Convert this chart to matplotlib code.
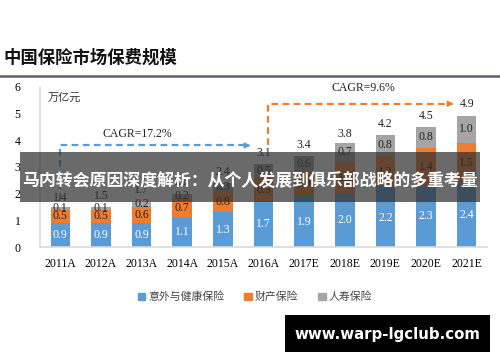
import matplotlib
matplotlib.use("Agg")
import matplotlib.pyplot as plt
from matplotlib.patches import Rectangle, Patch
import numpy as np

years = ["2011A", "2012A", "2013A", "2014A", "2015A", "2016A",
         "2017E", "2018E", "2019E", "2020E", "2021E"]
health = [0.9, 0.9, 0.9, 1.1, 1.3, 1.7, 1.9, 2.0, 2.2, 2.3, 2.4]
prop = [0.5, 0.5, 0.6, 0.7, 0.8, 0.9, 0.9, 1.2, 1.2, 1.4, 1.5]
life = [0.1, 0.1, 0.2, 0.2, 0.3, 0.5, 0.6, 0.7, 0.8, 0.8, 1.0]
totals = [1.4, 1.5, 1.7, 2.0, 2.4, 3.1, 3.4, 3.8, 4.2, 4.5, 4.9]
series_names = ["意外与健康保险", "财产保险", "人寿保险"]
title = "中国保险市场保费规模"
unit = "万亿元"
cagr1 = "CAGR=17.2%"
cagr2 = "CAGR=9.6%"
banner = "马内转会原因深度解析：从个人发展到俱乐部战略的多重考量"
watermark = "www.warp-lgclub.com"

C_BLUE = "#5B9BD5"
C_ORANGE = "#ED7D31"
C_GRAY = "#A5A5A5"
SERIF = "Liberation Serif"
CJK = ["Noto Sans CJK SC", "DejaVu Sans"]

fig = plt.figure(figsize=(5.0, 3.62), dpi=100)
W, H = 500, 362

ax = fig.add_axes([40 / W, 1 - 247 / H, (487 - 40) / W, (247 - 86.7) / H])
x = np.arange(len(years))
bw = 0.48
h = np.array(health); p = np.array(prop); l = np.array(life)
ax.bar(x, h, bw, color=C_BLUE, zorder=2)
ax.bar(x, p, bw, bottom=h, color=C_ORANGE, zorder=2)
ax.bar(x, l, bw, bottom=h + p, color=C_GRAY, zorder=2)

for i in range(len(years)):
    ax.text(x[i], h[i] / 2, f"{health[i]:.1f}", ha="center", va="center",
            color="white", fontsize=8.5, family=SERIF, zorder=3)
    ax.text(x[i], h[i] + p[i] / 2, f"{prop[i]:.1f}", ha="center", va="center",
            color="#222222", fontsize=8.5, family=SERIF, zorder=3)
    ax.text(x[i], h[i] + p[i] + l[i] / 2, f"{life[i]:.1f}", ha="center", va="center",
            color="#222222", fontsize=8.5, family=SERIF, zorder=3)
    if i < len(years) - 1:
        ax.text(x[i], totals[i] + 0.42, f"{totals[i]:.1f}", ha="center", va="center",
                color="#222222", fontsize=8.5, family=SERIF, zorder=3)

# CAGR arrows
ax.plot([0, 0, 4.6], [1.75, 3.8, 3.8], ls=(0, (3, 2)), color=C_BLUE, lw=1.6, zorder=4)
ax.annotate("", xy=(4.75, 3.8), xytext=(4.55, 3.8),
            arrowprops=dict(arrowstyle="-|>", color=C_BLUE, lw=1.2, mutation_scale=8), zorder=4)
ax.text(1.9, 4.23, cagr1, ha="center", va="center", fontsize=8.5, family=SERIF, color="#222222")

ax.plot([5.1, 5.1, 9.6], [3.8, 5.36, 5.36], ls=(0, (3, 2)), color=C_ORANGE, lw=1.6, zorder=4)
ax.annotate("", xy=(9.75, 5.36), xytext=(9.55, 5.36),
            arrowprops=dict(arrowstyle="-|>", color=C_ORANGE, lw=1.2, mutation_scale=8), zorder=4)
ax.text(10.0, 5.36, f"{totals[-1]:.1f}", ha="center", va="center", fontsize=8.5,
        family=SERIF, color="#222222")
ax.text(7.45, 5.95, cagr2, ha="center", va="center", fontsize=8.5, family=SERIF, color="#222222")

ax.text(-0.3, 5.6, unit, ha="left", va="center", fontsize=8, family=CJK,
        style="italic", color="#333333")

ax.set_xlim(-0.5, 10.5)
ax.set_ylim(0, 6)
ax.set_yticks(range(7))
ax.set_xticks(x)
ax.set_xticklabels(years, family=SERIF, fontsize=8.5)
for t in ax.get_yticklabels():
    t.set_family(SERIF); t.set_fontsize(8.5)
ax.tick_params(length=0, pad=8)
ax.tick_params(axis="y", pad=14)
for s in ["top", "right"]:
    ax.spines[s].set_visible(False)
ax.spines["left"].set_color("#d9d9d9")
ax.spines["bottom"].set_color("#d9d9d9")
ax.spines["left"].set_linewidth(1.2)
ax.spines["bottom"].set_linewidth(1.2)

# legend
handles = [Patch(color=c) for c in (C_BLUE, C_ORANGE, C_GRAY)]
fig.legend(handles, series_names, loc="center", bbox_to_anchor=(255 / W, 1 - 297 / H),
           ncol=3, frameon=False, prop={"family": CJK, "size": 7.8},
           handlelength=0.7, handleheight=0.7, handletextpad=0.3, columnspacing=1.8,
           labelcolor="#444444")

# title and rule
fig.text(3 / W, 1 - 58 / H, title, ha="left", va="center", fontsize=12.5,
         family=CJK, weight="bold", color="#111111")
fig.add_artist(plt.Line2D([0, 1], [1 - 76 / H, 1 - 76 / H], color="#5c5c80", lw=1.8,
                          transform=fig.transFigure))

# banner overlay
fig.add_artist(Rectangle((20 / W, 1 - 202 / H), 460 / W, 50 / H, transform=fig.transFigure,
                         facecolor="#303030", alpha=0.72, edgecolor="none", zorder=10))
fig.text(250 / W, 1 - 181 / H, banner, ha="center", va="center", fontsize=12.2,
         family=CJK, weight="bold", color="white", zorder=11)

# watermark
fig.add_artist(Rectangle((285 / W, 1 - 352 / H), 205 / W, 37 / H, transform=fig.transFigure,
                         facecolor="black", edgecolor="none", zorder=10))
fig.text(387 / W, 1 - 334 / H, watermark, ha="center", va="center", fontsize=10.8,
         family="DejaVu Sans", weight="bold", color="white", zorder=11)

fig.savefig("out.png", dpi=100)
